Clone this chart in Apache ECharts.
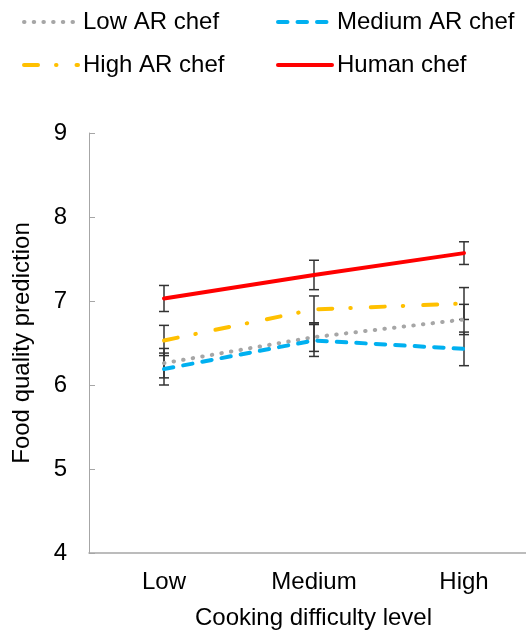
<!DOCTYPE html>
<html>
<head>
<meta charset="utf-8">
<script src="https://cdn.jsdelivr.net/npm/echarts@6/dist/echarts.min.js"></script>
<style>
html,body{margin:0;padding:0;background:#fff;}
#chart{width:526px;height:630px;}
</style>
</head>
<body>
<div id="chart"></div>
<script>
// ---- data ----
const categories = ['Low', 'Medium', 'High'];
const yTicks = [4, 5, 6, 7, 8, 9];
const lowAR = [6.26, 6.57, 6.78];
const lowARErr = [0.175, 0.17, 0.18];
const mediumAR = [6.19, 6.53, 6.43];
const mediumARErr = [0.19, 0.19, 0.20];
const highAR = [6.53, 6.90, 6.97];
const highARErr = [0.18, 0.16, 0.19];
const human = [7.03, 7.31, 7.57];
const humanErr = [0.155, 0.175, 0.135];

const FONT = 'Liberation Sans, Arial, sans-serif';
const FS = 24;

function pts(vals) { return vals.map((v, i) => [i, v]); }
function errData(vals, errs) { return vals.map((v, i) => [i, v - errs[i], v + errs[i]]); }

function errSeries(name, vals, errs) {
  return {
    type: 'custom',
    name: name + ' err',
    z: 1,
    silent: true,
    data: errData(vals, errs),
    encode: { x: 0, y: [1, 2] },
    renderItem: function (params, api) {
      const x = api.value(0);
      const lo = api.coord([x, api.value(1)]);
      const hi = api.coord([x, api.value(2)]);
      const hw = 5;
      const style = { stroke: '#333', lineWidth: 1.5 };
      return {
        type: 'group',
        children: [
          { type: 'line', shape: { x1: lo[0], y1: lo[1], x2: hi[0], y2: hi[1] }, style: style },
          { type: 'line', shape: { x1: lo[0] - hw, y1: lo[1], x2: lo[0] + hw, y2: lo[1] }, style: style },
          { type: 'line', shape: { x1: hi[0] - hw, y1: hi[1], x2: hi[0] + hw, y2: hi[1] }, style: style }
        ]
      };
    }
  };
}

function lineSeries(name, vals, color, dash, z) {
  return {
    type: 'line',
    name: name,
    z: z,
    data: pts(vals),
    symbol: 'none',
    showSymbol: false,
    lineStyle: { color: color, width: 4, type: dash, cap: 'round' },
    itemStyle: { color: color }
  };
}

function legend(name, left, top) {
  return {
    data: [name],
    left: left,
    top: top,
    padding: 0,
    itemWidth: 54,
    itemHeight: 20,
    itemGap: 0,
    itemStyle: { opacity: 0 },
    lineStyle: { width: 4 },
    textStyle: { fontSize: FS, color: '#000', fontFamily: FONT, padding: [0, 0, 0, 0] },
    selectedMode: false
  };
}

const chart = echarts.init(document.getElementById('chart'), null, { renderer: 'canvas' });
chart.setOption({
  animation: false,
  backgroundColor: '#fff',
  legend: [
    legend('Low AR chef', 22, 10),
    legend('Medium AR chef', 276, 10),
    legend('High AR chef', 22, 53),
    legend('Human chef', 276, 53)
  ],
  grid: { left: 89, right: 0, top: 133, bottom: 77, containLabel: false, outerBoundsMode: 'none' },
  xAxis: {
    type: 'value',
    min: -0.5,
    max: (526 - 89) / 150 - 0.5,
    splitLine: { show: false },
    axisLine: { show: true, onZero: false, lineStyle: { color: '#A6A6A6', width: 1.5 } },
    axisTick: { show: false },
    axisLabel: {
      customValues: [0, 1, 2],
      formatter: function (v) { return categories[Math.round(v)]; },
      fontSize: FS, color: '#000', fontFamily: FONT, margin: 17
    },
    name: 'Cooking difficulty level',
    nameLocation: 'middle',
    nameGap: 53,
    nameTextStyle: { fontSize: FS, color: '#000', fontFamily: FONT, padding: [0, 0, 0, 12] }
  },
  yAxis: {
    type: 'value',
    min: yTicks[0],
    max: yTicks[yTicks.length - 1],
    interval: 1,
    splitLine: { show: false },
    axisLine: { show: true, onZero: false, lineStyle: { color: '#A6A6A6', width: 1 } },
    axisTick: { show: true, inside: true, length: 6, lineStyle: { color: '#A6A6A6' } },
    axisLabel: { fontSize: FS, color: '#000', fontFamily: FONT, margin: 22 },
    name: 'Food quality prediction',
    nameLocation: 'middle',
    nameGap: 55,
    nameTextStyle: { fontSize: FS, color: '#000', fontFamily: FONT }
  },
  series: [
    errSeries('Low AR chef', lowAR, lowARErr),
    errSeries('Medium AR chef', mediumAR, mediumARErr),
    errSeries('High AR chef', highAR, highARErr),
    errSeries('Human chef', human, humanErr),
    lineSeries('Low AR chef', lowAR, '#A6A6A6', [0.5, 9.2], 2),
    lineSeries('Medium AR chef', mediumAR, '#00B0F0', [9.5, 10], 3),
    lineSeries('High AR chef', highAR, '#FFC000', [14, 18, 0.5, 20], 4),
    lineSeries('Human chef', human, '#FF0000', 'solid', 5)
  ]
});
</script>
</body>
</html>
